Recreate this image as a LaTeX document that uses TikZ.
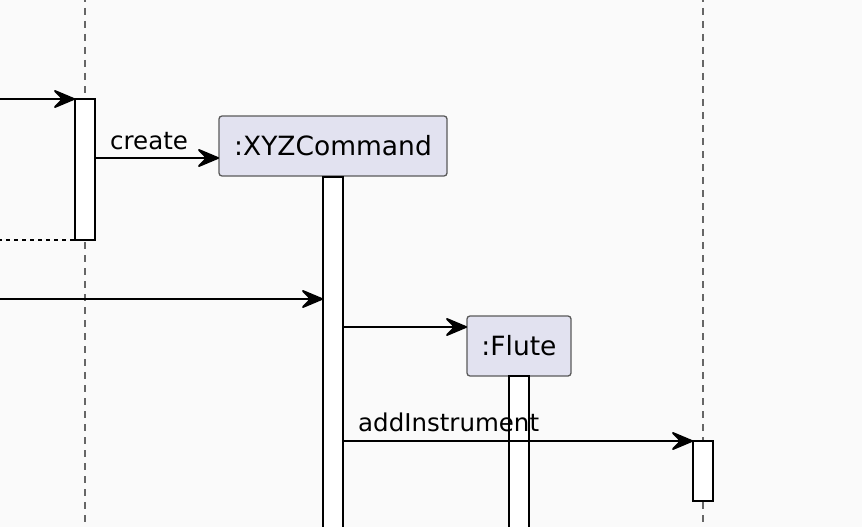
\documentclass[tikz,border=0pt]{standalone}
\usepackage{fontspec}
\setmainfont{DejaVu Sans}
\usetikzlibrary{arrows.meta}
\definecolor{bg}{HTML}{FAFAFA}
\definecolor{partfill}{HTML}{E2E2F0}
\definecolor{partline}{HTML}{5A5A5A}
\definecolor{lifegray}{HTML}{666666}
\tikzset{
  partbox/.style={draw=partline, fill=partfill, line width=1.3pt, rounded corners=3pt, inner sep=0pt, outer sep=0pt, minimum height=60pt, font=\fontsize{26.5}{30}\selectfont},
  actbox/.style={draw=black, fill=white, line width=1.8pt, inner sep=0pt, outer sep=0pt, minimum width=20pt},
  lifeline/.style={draw=lifegray, line width=1.2pt, dash pattern=on 7pt off 6pt},
  msg/.style={draw=black, line width=1.8pt, -{Stealth[length=25pt, width=21pt, inset=10pt, round]}},
  retmsg/.style={draw=black, line width=1.8pt, dash pattern=on 4pt off 4pt},
  msglabel/.style={font=\fontsize{24.5}{28}\selectfont, inner sep=0pt, anchor=base west},
}
\begin{document}
\begin{tikzpicture}[x=1pt, y=-1pt]
\fill[bg] (0,0) rectangle (862,527);
\useasboundingbox (0,0) rectangle (862,527);
% lifelines
\coordinate (l1top) at (85,-5);
\coordinate (l1bot) at (85,532);
\coordinate (l3top) at (703,-5);
\coordinate (l3bot) at (703,532);
\draw[lifeline] (l1top) -- (l1bot);
\draw[lifeline] (l3top) -- (l3bot);
% participants
\node[partbox, minimum width=228pt] (xyz) at (333,146) {:XYZCommand};
\node[partbox, minimum width=104pt] (flute) at (519,346) {:Flute};
% activations
\node[actbox, minimum height=141pt] (act1) at (85,169.5) {};
\node[actbox, minimum height=355pt] (xyzact) at (333,354.5) {};
\node[actbox, minimum height=160pt] (fluteact) at (519,456) {};
\node[actbox, minimum height=60pt] (act3) at (703,471) {};
% messages
\coordinate (in1) at (-2,99);
\draw[msg] (in1) -- (act1.west |- in1);
\coordinate (cr) at (95,158);
\draw[msg] (act1.east |- cr) -- (xyz.west |- cr);
\node[msglabel] (crlabel) at (110,149) {create};
\coordinate (ret1) at (-2,240);
\draw[retmsg] (ret1) -- (act1.west |- ret1);
\coordinate (in2) at (-2,299);
\draw[msg] (in2) -- (xyzact.west |- in2);
\coordinate (fl) at (343,327);
\draw[msg] (xyzact.east |- fl) -- (flute.west |- fl);
\coordinate (ai) at (343,441);
\draw[msg] (xyzact.east |- ai) -- (act3.west |- ai);
\node[msglabel] (addlabel) at (358,431) {addInstrument};
\end{tikzpicture}
\end{document}
